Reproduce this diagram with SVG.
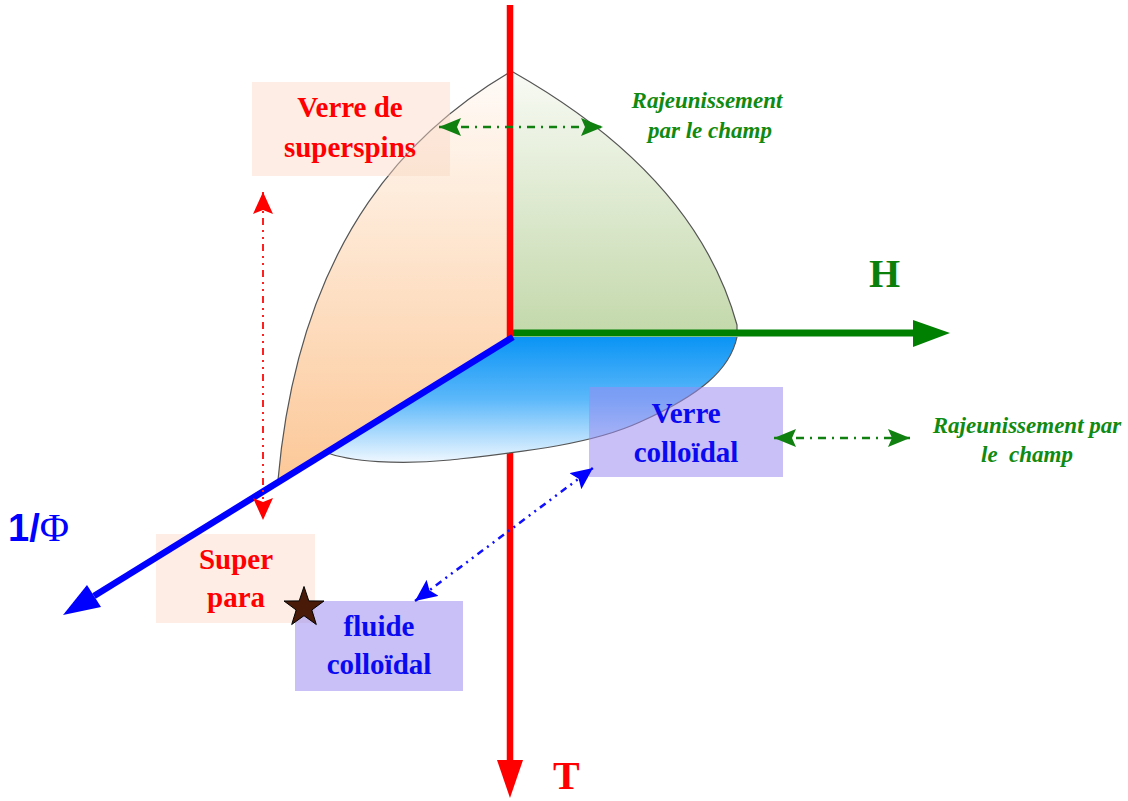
<svg xmlns="http://www.w3.org/2000/svg" width="1128" height="801" viewBox="0 0 1128 801">
<style>
.surf-edge{fill:none;stroke:#555;stroke-width:1.2}
.peachbox{fill:#fbd8c4;fill-opacity:0.45}
.lavbox{fill:#9a8cf0;fill-opacity:0.55}
.t-red{font-family:"Liberation Serif",serif;font-weight:bold;font-size:29px;fill:#ff0000;text-anchor:middle}
.t-blue{font-family:"Liberation Serif",serif;font-weight:bold;font-size:29px;fill:#0a0af0;text-anchor:middle}
.t-green{font-family:"Liberation Serif",serif;font-weight:bold;font-style:italic;font-size:23px;fill:#118a11;text-anchor:middle}
.dd-green{fill:none;stroke:#108010;stroke-width:2.5;stroke-dasharray:8,6,2,6}
.dd-red{fill:none;stroke:#ff2020;stroke-width:2;stroke-dasharray:7,5,2,5,2,5}
.dd-blue{fill:none;stroke:#1010ff;stroke-width:2.5;stroke-dasharray:7,5,2,5,2,5}
</style>
<defs>
<linearGradient id="gPeach" gradientUnits="userSpaceOnUse" x1="0" y1="72" x2="0" y2="480">
<stop offset="0" stop-color="#fffbf8"/>
<stop offset="1" stop-color="#fcc898"/>
</linearGradient>
<linearGradient id="gGreen" gradientUnits="userSpaceOnUse" x1="0" y1="72" x2="0" y2="330">
<stop offset="0" stop-color="#f8faf4"/>
<stop offset="1" stop-color="#c4d9ac"/>
</linearGradient>
<linearGradient id="gBlue" gradientUnits="userSpaceOnUse" x1="0" y1="337" x2="0" y2="462">
<stop offset="0" stop-color="#0a94f5"/>
<stop offset="0.5" stop-color="#5cb8fa"/>
<stop offset="1" stop-color="#eef7ff"/>
</linearGradient>
<marker id="mG" markerUnits="userSpaceOnUse" markerWidth="24" markerHeight="18" refX="22" refY="9" orient="auto-start-reverse" viewBox="0 0 24 18">
<path d="M0,0 L22,9 L0,18 L4,9 Z" fill="#108010"/>
</marker>
<marker id="mR" markerUnits="userSpaceOnUse" markerWidth="24" markerHeight="20" refX="22" refY="10" orient="auto-start-reverse" viewBox="0 0 24 20">
<path d="M0,0 L22,10 L0,20 L4,10 Z" fill="#ff0000"/>
</marker>
<marker id="mB" markerUnits="userSpaceOnUse" markerWidth="24" markerHeight="20" refX="22" refY="10" orient="auto-start-reverse" viewBox="0 0 24 20">
<path d="M0,0 L22,10 L0,20 L4,10 Z" fill="#0000ff"/>
</marker>
</defs>
<rect width="1128" height="801" fill="#ffffff"/>

<g id="surface-peach">
<path d="M510,72 C420,125 300,230 278,480 L510,337 Z" fill="url(#gPeach)"/>
<path class="surf-edge" d="M510,72 C420,125 300,230 278,480"/>
</g>
<g id="surface-green">
<path d="M513,72 C580,110 700,190 737,325 L737,331 L513,331 Z" fill="url(#gGreen)"/>
<path class="surf-edge" d="M513,72 C580,110 700,190 737,325 L737,331"/>
</g>
<g id="axis-T">
<line x1="510" y1="5" x2="510" y2="762" stroke="#ff0000" stroke-width="6.5"/>
<polygon points="497,760 523,760 510,798" fill="#ff0000"/>
</g>
<g id="surface-blue">
<path d="M513,337 L737,337 C730,370 700,395 640,422 C590,445 520,452 450,460 C400,465 350,462 325,452 Z" fill="url(#gBlue)"/>
<path class="surf-edge" d="M737,337 C730,370 700,395 640,422 C590,445 520,452 450,460 C400,465 350,462 325,452"/>
</g>

<g id="node-superspins">
<rect class="peachbox" x="252" y="82" width="198" height="94"/>
<text class="t-red" x="350" y="117">Verre de</text>
<text class="t-red" x="350" y="157">superspins</text>
</g>
<g id="node-superpara">
<rect class="peachbox" x="156" y="534" width="159" height="89"/>
<text class="t-red" x="236" y="569">Super</text>
<text class="t-red" x="236" y="607">para</text>
</g>
<g id="node-fluide">
<rect class="lavbox" x="295" y="601" width="168" height="90"/>
<text class="t-blue" x="379" y="636">fluide</text>
<text class="t-blue" x="379" y="674">colloïdal</text>
</g>
<g id="node-verre-colloidal">
<rect class="lavbox" x="589" y="387" width="194" height="90"/>
<text class="t-blue" x="686" y="423">Verre</text>
<text class="t-blue" x="686" y="462">colloïdal</text>
</g>

<g id="axis-H">
<line x1="513" y1="333" x2="915" y2="333" stroke="#008000" stroke-width="7"/>
<polygon points="913,320 950,333 913,347" fill="#008000"/>
<text x="869" y="287" font-family="Liberation Serif,serif" font-weight="bold" font-size="40" fill="#0a800a">H</text>
</g>
<g id="axis-phi">
<line x1="513" y1="337" x2="94" y2="596" stroke="#0000ff" stroke-width="6.5"/>
<polygon points="63,615 87,585 101,607" fill="#0000ff"/>
<text x="8" y="541" fill="#0000ff"><tspan font-family="Liberation Sans,sans-serif" font-weight="bold" font-size="38">1/</tspan><tspan font-family="Liberation Serif,serif" font-size="40">Φ</tspan></text>
</g>
<g id="label-T">
<text x="553" y="789" font-family="Liberation Serif,serif" font-weight="bold" font-size="40" fill="#ff0000">T</text>
</g>

<g id="note-top">
<text class="t-green" x="707" y="108">Rajeunissement</text>
<text class="t-green" x="710" y="138">par le champ</text>
</g>
<g id="note-right">
<text class="t-green" x="1027" y="433">Rajeunissement par</text>
<text class="t-green" x="1027" y="462" xml:space="preserve">le  champ</text>
</g>

<g id="connectors">
<line class="dd-green" x1="439" y1="127" x2="603" y2="127" marker-start="url(#mG)" marker-end="url(#mG)"/>
<line class="dd-green" x1="774" y1="438" x2="910" y2="438" marker-start="url(#mG)" marker-end="url(#mG)"/>
<line class="dd-red" x1="263" y1="192" x2="263" y2="520" marker-start="url(#mR)" marker-end="url(#mR)"/>
<line class="dd-blue" x1="415" y1="601" x2="593" y2="468" marker-start="url(#mB)" marker-end="url(#mB)"/>
</g>

<g id="star">
<polygon points="304,586.5 308.8,600.9 324,601 311.8,610 316.3,624.5 304,615.7 291.7,624.5 296.2,610 284,601 299.2,600.9" fill="#4a1a08" stroke="#000" stroke-width="1"/>
</g>
</svg>
